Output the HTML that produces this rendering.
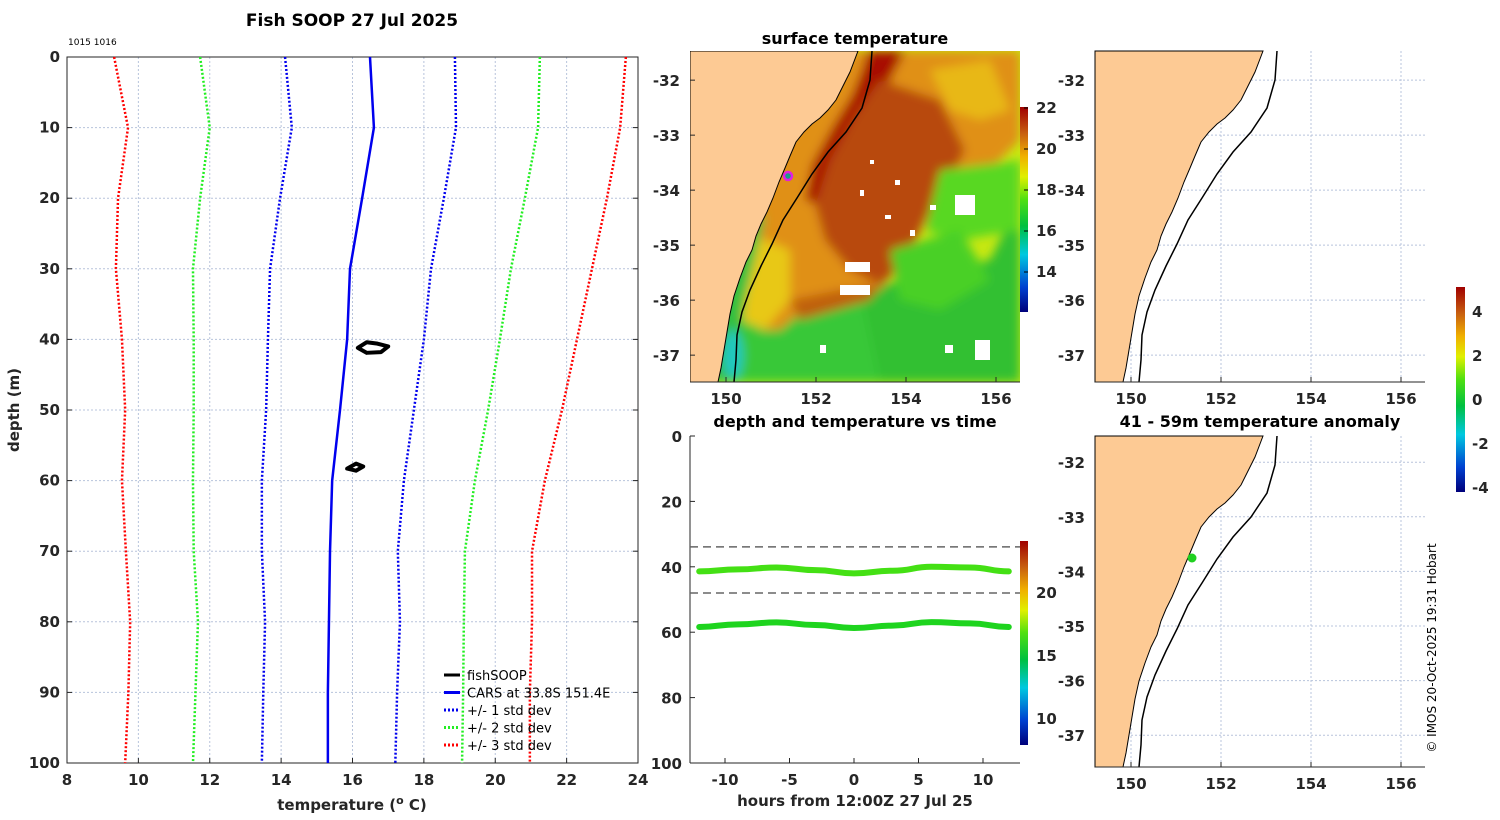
<!DOCTYPE html>
<html><head><meta charset="utf-8">
<style>
body{margin:0;background:#fff;}
svg{display:block;font-family:"DejaVu Sans","Liberation Sans",sans-serif;}
.tk{font-size:15px;font-weight:bold;fill:#262626;}
.ttl{font-size:16px;font-weight:bold;fill:#000;}
.grid{stroke:#b8c4dc;stroke-width:1;stroke-dasharray:2,2;}
</style></head><body>
<svg id="fig" width="1500" height="820" viewBox="0 0 1500 820">
<defs>
<linearGradient id="sstcb" x1="0" y1="1" x2="0" y2="0">
<stop offset="0" stop-color="#00007a"/><stop offset="0.12" stop-color="#0040d0"/><stop offset="0.28" stop-color="#00c8e0"/><stop offset="0.42" stop-color="#00c040"/><stop offset="0.55" stop-color="#50e010"/><stop offset="0.66" stop-color="#e0f000"/><stop offset="0.76" stop-color="#f0b000"/><stop offset="0.87" stop-color="#c86010"/><stop offset="1" stop-color="#a00000"/>
</linearGradient>
<filter id="blur"><feGaussianBlur stdDeviation="5"/></filter>
<clipPath id="mapclip"><rect x="690" y="51" width="330" height="331"/></clipPath>
</defs>

<text x="352" y="26" text-anchor="middle" class="ttl" font-size="17" style="font-size:17px">Fish SOOP 27 Jul 2025</text>
<text x="68" y="45" font-size="9" fill="#000">1015 1016</text>
<g id="left"></g>

<text x="855" y="44" text-anchor="middle" class="ttl">surface temperature</text>
<g id="sst" clip-path="url(#mapclip)">
<rect x="690" y="51" width="330" height="331" fill="#c8e812"/>
<g filter="url(#blur)">
<polygon points="690,300 1020,290 1020,382 690,382" fill="#38c838"/>
<polygon points="860,290 990,260 1020,200 1020,382 880,382" fill="#30c030"/>
<polygon points="690,51 1020,51 1020,140 985,175 960,175 935,210 905,255 880,290 850,290 810,305 780,330 760,330 750,260" fill="#e09012"/>
<polygon points="740,230 790,250 790,300 765,330 740,320" fill="#e8c818"/>
<polygon points="930,70 990,60 1010,110 980,120 950,110" fill="#e8b818"/>
<polygon points="868,51 905,51 890,80 865,110 845,140 830,170 820,205 805,200 812,165 832,128 852,95 862,70" fill="#a80800"/>
<polygon points="880,80 940,100 965,150 950,180 925,220 905,265 880,285 850,270 825,240 815,205 830,160 855,115" fill="#b84a08"/>
<polygon points="790,300 840,290 880,285 870,300 800,320" fill="#c06010"/>
<polygon points="940,170 1020,160 1020,230 960,240 925,230" fill="#58d820"/>
<polygon points="890,250 960,230 990,280 940,310 900,300" fill="#48d028"/>
<polygon points="690,230 765,215 745,300 735,382 690,382" fill="#30c040"/>
<ellipse cx="733" cy="355" rx="10" ry="25" fill="#20c8c0"/>
</g>
<g fill="#fff">
<rect x="845" y="262" width="25" height="10"/><rect x="840" y="285" width="30" height="10"/><rect x="955" y="195" width="20" height="20"/><rect x="975" y="340" width="15" height="20"/><rect x="870" y="160" width="4" height="4"/><rect x="895" y="180" width="5" height="5"/><rect x="885" y="215" width="6" height="4"/><rect x="910" y="230" width="5" height="6"/><rect x="930" y="205" width="6" height="5"/><rect x="860" y="190" width="4" height="6"/><rect x="820" y="345" width="6" height="8"/><rect x="945" y="345" width="8" height="8"/>
</g>
<path id="coast" d="M858,51 L850,72 L842,88 L836,100 L828,110 L820,118 L812,124 L804,132 L796,142 L790,156 L785,168 L779,182 L773,198 L767,212 L761,224 L756,236 L752,250 L746,262 L740,278 L734,296 L730,314 L727,332 L724,350 L721,368 L718,382 L690,382 L690,51 Z" fill="#fdca94" stroke="#000" stroke-width="1"/>
<path id="iso" d="M872,51 L870,80 L862,108 L846,132 L828,152 L812,174 L797,198 L783,220 L772,244 L761,266 L750,290 L742,312 L737,335 L736,360 L734,382" fill="none" stroke="#000" stroke-width="1.5"/>
<circle cx="788" cy="176" r="4" fill="#1a9a8a" stroke="#e020e0" stroke-width="2.5"/>
</g>
<rect x="1020" y="107" width="8" height="205" fill="url(#sstcb)"/>
<g id="sstax"></g>

<text x="855" y="427" text-anchor="middle" class="ttl">depth and temperature vs time</text>
<g id="dt"></g>
<rect x="1020" y="541" width="8" height="204" fill="url(#sstcb)"/>

<g id="rmaps"></g>
<text x="1260" y="427" text-anchor="middle" class="ttl">41 - 59m temperature anomaly</text>
<rect x="1456" y="287" width="9" height="205" fill="url(#sstcb)"/>
<circle cx="1192" cy="558" r="4.5" fill="#20d020"/>
<text transform="translate(1436,648) rotate(-90)" text-anchor="middle" font-size="12" fill="#000">© IMOS 20-Oct-2025 19:31 Hobart</text>
</svg>
<script>
// ---- profile chart data ----
const depths=[0,10,20,30,40,50,60,70,80,90,100];
const carsMean=[16.49,16.6,16.27,15.93,15.85,15.65,15.43,15.37,15.34,15.31,15.31];
const plus1=[18.87,18.9,18.56,18.2,18.0,17.72,17.44,17.27,17.33,17.25,17.2];
const minus1=[14.11,14.3,13.97,13.69,13.63,13.58,13.46,13.46,13.55,13.5,13.46];
const plus2=[21.25,21.2,20.83,20.44,20.13,19.8,19.43,19.15,19.12,19.1,19.07];
const minus2=[11.73,12.0,11.73,11.53,11.55,11.55,11.53,11.55,11.67,11.6,11.53];
const plus3=[23.66,23.5,23.13,22.71,22.29,21.87,21.39,21.03,21.03,20.97,20.97];
const minus3=[9.32,9.71,9.43,9.37,9.54,9.63,9.54,9.65,9.77,9.72,9.63];
const fishT1=[16.15,16.4,16.7,17.0,16.8,16.4,16.15];
const fishD1=[41.2,40.4,40.6,41.0,41.8,41.9,41.2];
const fishT2=[15.85,16.1,16.3,16.1,15.85];
const fishD2=[58.3,57.6,58.0,58.6,58.3];
const xTicks=[8,10,12,14,16,18,20,22,24];
const yTicks=[0,10,20,30,40,50,60,70,80,90,100];

const NS="http://www.w3.org/2000/svg";
function mk(p,tag,at,txt){const e=document.createElementNS(NS,tag);for(const k in at)e.setAttribute(k,at[k]);if(txt!==undefined)e.textContent=txt;p.appendChild(e);return e;}

const L={x0:67,x1:638,y0:57,y1:763};
const lx=t=>L.x0+(t-8)/16*(L.x1-L.x0);
const ly=d=>L.y0+d/100*(L.y1-L.y0);
const lg=document.getElementById('left');
xTicks.forEach(t=>{const g=mk(lg,'line',{x1:lx(t),x2:lx(t),y1:L.y0,y2:L.y1,class:'grid'});


const tx=mk(lg,'text',{x:lx(t),y:L.y1+22,'text-anchor':'middle',class:'tk'},t);


mk(lg,'line',{x1:lx(t),x2:lx(t),y1:L.y1,y2:L.y1-5,stroke:'#262626'});});
yTicks.forEach(d=>{const g=mk(lg,'line',{x1:L.x0,x2:L.x1,y1:ly(d),y2:ly(d),class:'grid'});


const tx=mk(lg,'text',{x:L.x0-7,y:ly(d)+5,'text-anchor':'end',class:'tk'},d);


mk(lg,'line',{x1:L.x0,x2:L.x0+5,y1:ly(d),y2:ly(d),stroke:'#262626'});
mk(lg,'line',{x1:L.x1,x2:L.x1-5,y1:ly(d),y2:ly(d),stroke:'#262626'});});
const box=mk(lg,'rect',{x:L.x0,y:L.y0,width:L.x1-L.x0,height:L.y1-L.y0,fill:'none',stroke:'#262626'});


function prof(arr,col,dash,name){const p=mk(lg,'polyline',{points:arr.map((t,i)=>lx(t)+','+ly(depths[i])).join(' '),fill:'none',stroke:col,'stroke-width':2.5});
if(dash)p.setAttribute('stroke-dasharray','2,2');

}
prof(minus3,'#ff0000',1,'minus-3-std-line');prof(plus3,'#ff0000',1,'plus-3-std-line');
prof(minus2,'#22ee22',1,'minus-2-std-line');prof(plus2,'#22ee22',1,'plus-2-std-line');
prof(minus1,'#0000ee',1,'minus-1-std-line');prof(plus1,'#0000ee',1,'plus-1-std-line');
prof(carsMean,'#0000ee',0,'cars-mean-line');
[[fishT1,fishD1],[fishT2,fishD2]].forEach(([T,D])=>{const p=mk(lg,'polygon',{points:T.map((t,i)=>lx(t)+','+ly(D[i])).join(' '),fill:'#fff',stroke:'#000','stroke-width':4,'stroke-linejoin':'round'});

});
const xl=mk(lg,'text',{x:352,y:810,'text-anchor':'middle',class:'tk','font-size':'16'});
xl.innerHTML='temperature (<tspan font-size="11" dy="-6">o</tspan><tspan dy="6"> C)</tspan>';


const yl=mk(lg,'text',{transform:'translate(19,410) rotate(-90)','text-anchor':'middle',class:'tk','font-size':'16'},'depth (m)');


const legItems=[['fishSOOP','#000',0],['CARS at 33.8S 151.4E','#0000ee',0],['+/- 1 std dev','#0000ee',1],['+/- 2 std dev','#22ee22',1],['+/- 3 std dev','#ff0000',1]];
legItems.forEach((it,i)=>{const y=675+i*17.5;const ln=mk(lg,'line',{x1:444,x2:460,y1:y,y2:y,stroke:it[1],'stroke-width':3});
if(it[2])ln.setAttribute('stroke-dasharray','2,2');
const t=mk(lg,'text',{x:467,y:y+5,'font-size':'13',fill:'#000'},it[0]);

});

// ---- map axes ----
const lonTicks=[150,152,154,156];
const latTicks=[-32,-33,-34,-35,-36,-37];
function mapAxes(ox,oy,latTop,pxLat,grid,name){
 const g=document.getElementById(name==='sst'?'sstax':'rmaps');
 const mx=lon=>ox+36+(lon-150)*45;
 const my=lat=>oy+(latTop-lat)*pxLat;
 if(grid){lonTicks.forEach(l=>mk(g,'line',{x1:mx(l),x2:mx(l),y1:oy,y2:oy+331,class:'grid'}));
  latTicks.forEach(l=>mk(g,'line',{x1:ox,x2:ox+330,y1:my(l),y2:my(l),class:'grid'}));}
 lonTicks.forEach(l=>{const t=mk(g,'text',{x:mx(l),y:oy+331+22,'text-anchor':'middle',class:'tk'},l);
  
  
  mk(g,'line',{x1:mx(l),x2:mx(l),y1:oy+331,y2:oy+326,stroke:'#262626'});});
 latTicks.forEach(l=>{const t=mk(g,'text',{x:ox-10,y:my(l)+6,'text-anchor':'end',class:'tk'},l);
  
  
  mk(g,'line',{x1:ox,x2:ox+5,y1:my(l),y2:my(l),stroke:'#262626'});});
}
mapAxes(690,51,-31.47,55,false,'sst');
const rm=document.getElementById('rmaps');
const coast=document.getElementById('coast').getAttribute('d');
const iso=document.getElementById('iso').getAttribute('d');
[[1095,51,'top-right-map'],[1095,436,'anomaly-map']].forEach(([ox,oy,nm])=>{
 mapAxes(ox,oy,oy===51?-31.47:-31.52,oy===51?55:54.6,true,'r');
 const g=mk(rm,'g',{transform:`translate(${ox-690},${oy-51})`});
 
 
 mk(g,'path',{d:coast,fill:'#fdca94',stroke:'#000','stroke-width':1});
 mk(g,'path',{d:iso,fill:'none',stroke:'#000','stroke-width':1.5});
 mk(g,'line',{x1:690,x2:1020,y1:382,y2:382,stroke:'#262626'});
});
const sstTicks=[14,16,18,20,22];
const sax=document.getElementById('sstax');
sstTicks.forEach(v=>{const y=108+(22-v)*20.5;mk(sax,'line',{x1:1028,x2:1024,y1:y,y2:y,stroke:'#000'});
const t=mk(sax,'text',{x:1036,y:y+5,class:'tk','font-size':'13'},v);

});
mk(sax,'line',{x1:690,x2:1020,y1:382,y2:382,stroke:'#262626'});
const anomTicks=[4,2,0,-2,-4];
anomTicks.forEach(v=>{const y=400-v*22;mk(sax,'line',{x1:1465,x2:1461,y1:y,y2:y,stroke:'#000'});
const t=mk(sax,'text',{x:1472,y:y+5,class:'tk','font-size':'13'},v);

});

// ---- depth vs time ----
const hours=[-12,-9,-6,-3,0,3,6,9,12];
const depthUpper=[41.4,40.8,40.2,41.0,42.0,41.2,40.0,40.2,41.4];
const depthLower=[58.4,57.6,57.0,57.8,58.7,58.0,56.9,57.3,58.4];
const dashDepths=[33.9,48.0];
const hTicks=[-10,-5,0,5,10];
const dTicks=[0,20,40,60,80,100];
const D={x0:690,x1:1020,y0:436,y1:763};
const hx=h=>854+h*12.9;
const dy=d=>D.y0+d/100*(D.y1-D.y0);
const dt=document.getElementById('dt');
mk(dt,'line',{x1:D.x0,x2:D.x0,y1:D.y0,y2:D.y1,stroke:'#262626'});
mk(dt,'line',{x1:D.x0,x2:D.x1,y1:D.y1,y2:D.y1,stroke:'#262626'});
hTicks.forEach(h=>{const t=mk(dt,'text',{x:hx(h),y:D.y1+22,'text-anchor':'middle',class:'tk'},h);


mk(dt,'line',{x1:hx(h),x2:hx(h),y1:D.y1,y2:D.y1-5,stroke:'#262626'});});
dTicks.forEach(d=>{const t=mk(dt,'text',{x:D.x0-8,y:dy(d)+6,'text-anchor':'end',class:'tk'},d);


mk(dt,'line',{x1:D.x0,x2:D.x0+5,y1:dy(d),y2:dy(d),stroke:'#262626'});});
dashDepths.forEach(d=>{const l=mk(dt,'line',{x1:D.x0,x2:D.x1,y1:dy(d),y2:dy(d),stroke:'#666','stroke-width':1.5,'stroke-dasharray':'8,5'});

});
function smooth(H,Dp){let s='M'+hx(H[0])+','+dy(Dp[0]);for(let i=1;i<H.length;i++){const xm=(hx(H[i-1])+hx(H[i]))/2;s+=` C${xm},${dy(Dp[i-1])} ${xm},${dy(Dp[i])} ${hx(H[i])},${dy(Dp[i])}`;}return s;}
[[depthUpper,'#44e014','upper-track'],[depthLower,'#1ed41e','lower-track']].forEach(([arr,c,nm])=>{const p=mk(dt,'path',{d:smooth(hours,arr),fill:'none',stroke:c,'stroke-width':6,'stroke-linecap':'round'});

});
const cbT=[10,15,20];
cbT.forEach(v=>{const y=593+(20-v)*12.6;mk(dt,'line',{x1:1028,x2:1024,y1:y,y2:y,stroke:'#000'});
const t=mk(dt,'text',{x:1036,y:y+5,class:'tk','font-size':'13'},v);

});
const hl=mk(dt,'text',{x:855,y:806,'text-anchor':'middle',class:'tk','font-size':'16'},'hours from 12:00Z 27 Jul 25');


</script>
</body></html>
